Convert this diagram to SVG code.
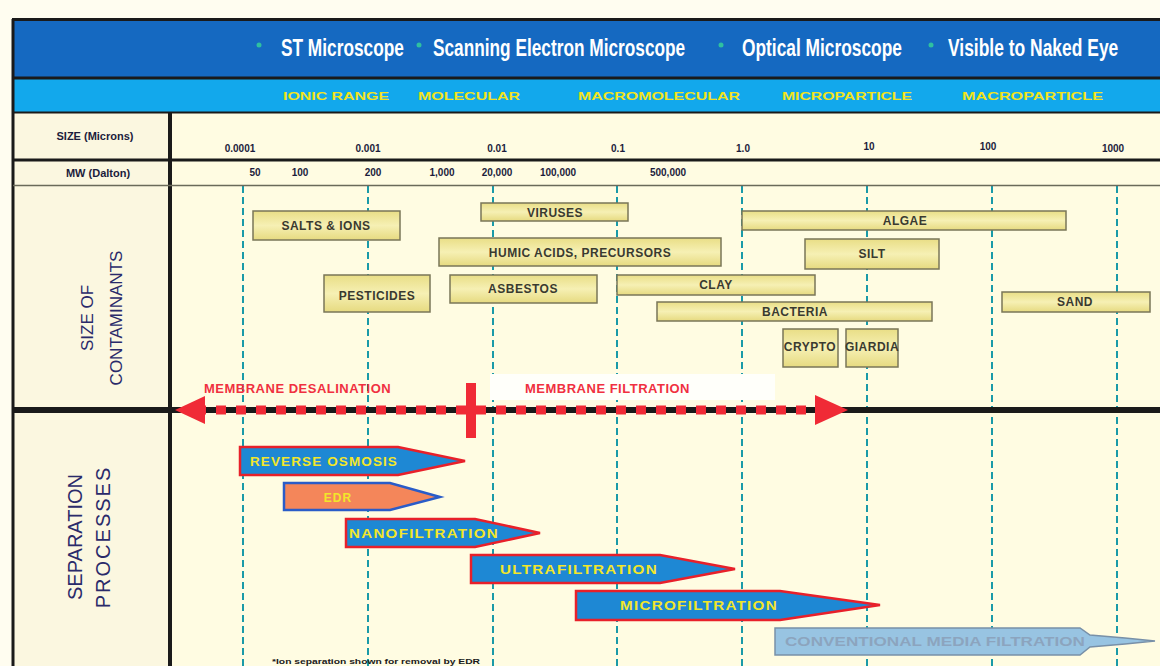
<svg xmlns="http://www.w3.org/2000/svg" width="1160" height="666" viewBox="0 0 1160 666">
<defs>
<style>
.hdr{font-family:"Liberation Sans",Arial,sans-serif;font-weight:bold;fill:#ffffff;font-size:24px}
.band{font-family:"Liberation Sans",Arial,sans-serif;font-weight:bold;fill:#F2E41C;font-size:11px}
.scale{font-family:"Liberation Sans",Arial,sans-serif;font-weight:bold;fill:#1c1c3c;font-size:10px;text-anchor:middle}
.rowlbl{font-family:"Liberation Sans",Arial,sans-serif;font-weight:bold;fill:#1c1c3c;font-size:11px;text-anchor:middle}
.grid{stroke:#1A9AA8;stroke-width:2;stroke-dasharray:7 4;fill:none}
.box{fill:url(#boxg);stroke:#7a7658;stroke-width:1.5}
.btxt{font-family:"Liberation Sans",Arial,sans-serif;font-weight:bold;fill:#3a3a30;font-size:12px;text-anchor:middle;letter-spacing:0.5px}
.side{font-family:"Liberation Sans",Arial,sans-serif;fill:#2a2a6a;text-anchor:middle}
.proc{fill:#1E88D4;stroke:#E8202A;stroke-width:2.5;stroke-linejoin:miter}
.ptxt{font-family:"Liberation Sans",Arial,sans-serif;font-weight:bold;fill:#F2E62A;font-size:12px;letter-spacing:1px}
.mem{font-family:"Liberation Sans",Arial,sans-serif;font-weight:bold;fill:#F03040;font-size:13px;letter-spacing:0.5px}
</style>
<linearGradient id="boxg" x1="0" y1="0" x2="0" y2="1">
<stop offset="0" stop-color="#E9DE86"/>
<stop offset="0.5" stop-color="#F6F0B4"/>
<stop offset="1" stop-color="#E6DA80"/>
</linearGradient>
</defs>

<!-- background -->
<rect x="0" y="0" width="1160" height="666" fill="#FFFDF0"/>
<rect x="13" y="19" width="1147" height="647" fill="#FFFCE2"/>
<rect x="14" y="113" width="156" height="553" fill="#FBF7E0"/>

<!-- header bands -->
<g id="header">
<rect x="13" y="19" width="1147" height="59" fill="#1569C1"/>
<rect x="13" y="79" width="1147" height="33" fill="#12A8EC"/>
<line x1="12" y1="19.5" x2="1160" y2="19.5" stroke="#1a1a1a" stroke-width="3"/>
<line x1="12" y1="78" x2="1160" y2="78" stroke="#1a1a1a" stroke-width="3"/>
<line x1="12" y1="112.5" x2="1160" y2="112.5" stroke="#1a1a1a" stroke-width="2"/>
<circle cx="259" cy="45" r="2.5" fill="#2FC0A0"/>
<circle cx="419" cy="45" r="2.5" fill="#2FC0A0"/>
<circle cx="721" cy="45" r="2.5" fill="#2FC0A0"/>
<circle cx="931" cy="45" r="2.5" fill="#2FC0A0"/>
<text class="hdr" transform="translate(281,56) scale(0.65,1)" textLength="189" lengthAdjust="spacingAndGlyphs">ST Microscope</text>
<text class="hdr" transform="translate(433,56) scale(0.65,1)" textLength="388" lengthAdjust="spacingAndGlyphs">Scanning Electron Microscope</text>
<text class="hdr" transform="translate(742,56) scale(0.65,1)" textLength="246" lengthAdjust="spacingAndGlyphs">Optical Microscope</text>
<text class="hdr" transform="translate(948,56) scale(0.65,1)" textLength="262" lengthAdjust="spacingAndGlyphs">Visible to Naked Eye</text>
<text class="band" x="283" y="100" textLength="106" lengthAdjust="spacingAndGlyphs">IONIC RANGE</text>
<text class="band" x="418" y="100" textLength="102" lengthAdjust="spacingAndGlyphs">MOLECULAR</text>
<text class="band" x="578" y="100" textLength="162" lengthAdjust="spacingAndGlyphs">MACROMOLECULAR</text>
<text class="band" x="782" y="100" textLength="130" lengthAdjust="spacingAndGlyphs">MICROPARTICLE</text>
<text class="band" x="962" y="100" textLength="141" lengthAdjust="spacingAndGlyphs">MACROPARTICLE</text>
</g>

<!-- grid lines -->
<g id="grid">
<line class="grid" x1="243" y1="186" x2="243" y2="666"/>
<line class="grid" x1="368" y1="186" x2="368" y2="666"/>
<line class="grid" x1="493" y1="186" x2="493" y2="666"/>
<line class="grid" x1="617" y1="186" x2="617" y2="666"/>
<line class="grid" x1="742" y1="186" x2="742" y2="666"/>
<line class="grid" x1="867" y1="186" x2="867" y2="666"/>
<line class="grid" x1="992" y1="186" x2="992" y2="666"/>
<line class="grid" x1="1117" y1="186" x2="1117" y2="666"/>
</g>

<!-- table frame -->
<g id="frame">
<line x1="13" y1="19" x2="13" y2="666" stroke="#1a1a1a" stroke-width="3"/>
<line x1="170" y1="113" x2="170" y2="666" stroke="#1a1a1a" stroke-width="4"/>
<line x1="13" y1="160" x2="1160" y2="160" stroke="#1a1a1a" stroke-width="3"/>
<line x1="13" y1="185.5" x2="1160" y2="185.5" stroke="#6a6a5a" stroke-width="1.5"/>
<line x1="13" y1="410" x2="1160" y2="410" stroke="#1a1a1a" stroke-width="6"/>
</g>

<!-- scale rows -->
<g id="scales">
<text class="rowlbl" x="95" y="140">SIZE (Microns)</text>
<text class="rowlbl" x="98" y="177">MW (Dalton)</text>
<text class="scale" x="240" y="152">0.0001</text>
<text class="scale" x="368" y="152">0.001</text>
<text class="scale" x="497" y="152">0.01</text>
<text class="scale" x="618" y="152">0.1</text>
<text class="scale" x="743" y="152">1.0</text>
<text class="scale" x="869" y="150">10</text>
<text class="scale" x="988" y="150">100</text>
<text class="scale" x="1113" y="152">1000</text>
<text class="scale" x="255" y="176">50</text>
<text class="scale" x="300" y="176">100</text>
<text class="scale" x="373" y="176">200</text>
<text class="scale" x="442" y="176">1,000</text>
<text class="scale" x="497" y="176">20,000</text>
<text class="scale" x="558" y="176">100,000</text>
<text class="scale" x="668" y="176">500,000</text>
</g>

<!-- side labels -->
<g id="side-labels">
<text class="side" font-size="17" transform="translate(93,318) rotate(-90)">SIZE OF</text>
<text class="side" font-size="17" transform="translate(122,318) rotate(-90)">CONTAMINANTS</text>
<text class="side" font-size="20" transform="translate(82,537) rotate(-90)">SEPARATION</text>
<text class="side" font-size="20" transform="translate(110,537) rotate(-90)" letter-spacing="2">PROCESSES</text>
</g>

<!-- contaminants -->
<g id="salts"><rect class="box" x="253" y="211" width="147" height="29"/><text class="btxt" x="326" y="230">SALTS &amp; IONS</text></g>
<g id="viruses"><rect class="box" x="481" y="203" width="147" height="18"/><text class="btxt" x="555" y="217">VIRUSES</text></g>
<g id="humic"><rect class="box" x="439" y="238" width="282" height="28"/><text class="btxt" x="580" y="257" font-size="11">HUMIC ACIDS, PRECURSORS</text></g>
<g id="algae"><rect class="box" x="742" y="211" width="324" height="19"/><text class="btxt" x="905" y="225">ALGAE</text></g>
<g id="silt"><rect class="box" x="805" y="239" width="134" height="30"/><text class="btxt" x="872" y="258">SILT</text></g>
<g id="pesticides"><rect class="box" x="324" y="275" width="106" height="37"/><text class="btxt" x="377" y="300" font-size="10">PESTICIDES</text></g>
<g id="asbestos"><rect class="box" x="450" y="275" width="147" height="28"/><text class="btxt" x="523" y="293" font-size="13">ASBESTOS</text></g>
<g id="clay"><rect class="box" x="617" y="275" width="198" height="20"/><text class="btxt" x="716" y="289" font-size="13">CLAY</text></g>
<g id="bacteria"><rect class="box" x="657" y="302" width="275" height="19"/><text class="btxt" x="795" y="316">BACTERIA</text></g>
<g id="sand"><rect class="box" x="1002" y="292" width="148" height="20"/><text class="btxt" x="1075" y="306">SAND</text></g>
<g id="crypto"><rect class="box" x="783" y="329" width="55" height="38"/><text class="btxt" x="810" y="351" font-size="8" letter-spacing="0">CRYPTO</text></g>
<g id="giardia"><rect class="box" x="846" y="329" width="52" height="38"/><text class="btxt" x="872" y="351" font-size="8" letter-spacing="0">GIARDIA</text></g>

<!-- membrane arrows -->
<g id="connectors">
<rect x="490" y="374" width="285" height="26" fill="#FFFFFA"/>
<line x1="196" y1="410" x2="828" y2="410" stroke="#F02A36" stroke-width="9" stroke-dasharray="10 10"/>
<polygon points="175,410 205,396 205,424" fill="#F02A36"/>
<polygon points="848,410 815,395 815,425" fill="#F02A36"/>
<rect x="466" y="383" width="10" height="55" fill="#F02A36"/>
<text class="mem" x="204" y="393">MEMBRANE DESALINATION</text>
<text class="mem" x="525" y="393">MEMBRANE FILTRATION</text>
</g>

<!-- separation processes -->
<g id="ro"><polygon class="proc" points="240,447 398,447 465,461 398,475 240,475"/><text class="ptxt" x="250" y="466" textLength="148" lengthAdjust="spacingAndGlyphs">REVERSE OSMOSIS</text></g>
<g id="edr"><polygon points="284,483 390,483 440,497 390,510 284,510" fill="#F4865A" stroke="#2A5CC8" stroke-width="2.5"/><text class="ptxt" x="338" y="502" text-anchor="middle" fill="#F6D040">EDR</text></g>
<g id="nf"><polygon class="proc" points="346,519 475,519 540,533 475,547 346,547" /><text class="ptxt" x="349" y="538" textLength="150" lengthAdjust="spacingAndGlyphs">NANOFILTRATION</text></g>
<g id="uf"><polygon class="proc" points="471,555 660,555 735,569 660,583 471,583"/><text class="ptxt" x="500" y="574" textLength="158" lengthAdjust="spacingAndGlyphs">ULTRAFILTRATION</text></g>
<g id="mf"><polygon class="proc" points="576,591 780,591 880,605 780,620 576,620"/><text class="ptxt" x="620" y="610" textLength="158" lengthAdjust="spacingAndGlyphs">MICROFILTRATION</text></g>
<g id="cmf"><polygon points="775,628 1080,628 1090,635 1125,638 1155,641 1125,644 1090,647 1080,655 775,655" fill="#98C4E2" stroke="#7890A8" stroke-width="1.5"/><text x="785" y="646" font-family="Liberation Sans, Arial, sans-serif" font-weight="bold" font-size="12" fill="#8CA4BE" textLength="300" lengthAdjust="spacingAndGlyphs">CONVENTIONAL MEDIA FILTRATION</text></g>

<text x="272" y="664" font-family="Liberation Sans, Arial, sans-serif" font-size="7" font-weight="bold" fill="#1a1a1a" textLength="208" lengthAdjust="spacingAndGlyphs">*Ion separation shown for removal by EDR</text>
</svg>
